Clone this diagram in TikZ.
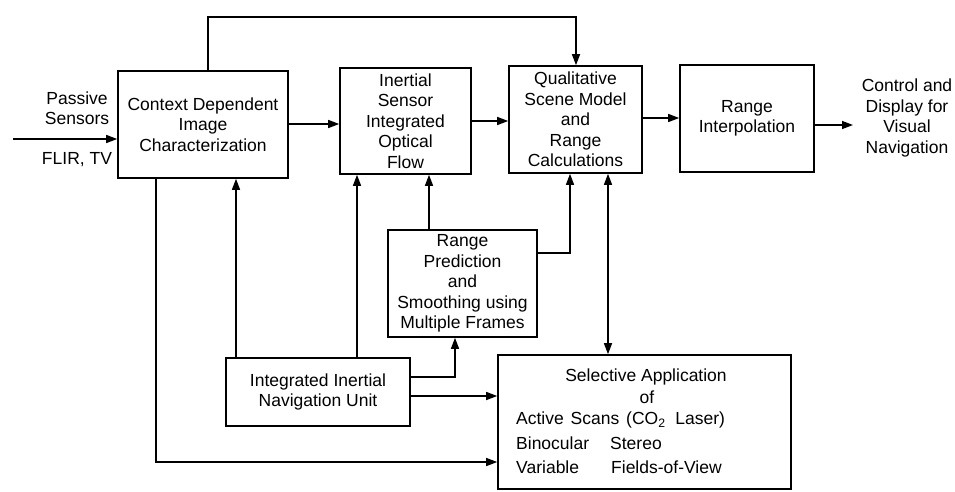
\documentclass[tikz,border=0pt]{standalone}
\usepackage{fontspec}
\setmainfont{Liberation Sans}
\usetikzlibrary{arrows.meta}
\begin{document}
\begin{tikzpicture}[x=1pt,y=-1pt,
  font=\fontsize{17.5}{20.5}\selectfont,
  box/.style={draw,line width=1.6pt,align=center,inner sep=0pt},
  lab/.style={align=center,inner sep=0pt},
  conn/.style={line width=1.4pt},
  arr/.style={conn,-{Triangle[length=11pt,width=8pt]}},
  darr/.style={conn,{Triangle[length=11pt,width=8pt]}-{Triangle[length=11pt,width=8pt]}}]
\useasboundingbox (0,0) rectangle (955,491);
% boxes
\node[box,minimum width=170pt,minimum height=107pt] (cdi) at (203,124.5) {Context Dependent\\Image\\Characterization};
\node[box,minimum width=131pt,minimum height=106pt] (isf) at (405.5,121) {Inertial\\Sensor\\Integrated\\Optical\\Flow};
\node[box,minimum width=133pt,minimum height=107pt] (qsm) at (575.5,119.5) {Qualitative\\Scene Model\\and\\Range\\Calculations};
\node[box,minimum width=134pt,minimum height=107pt] (ri) at (747,118.5) {Range\\Interpolation};
\node[box,minimum width=149pt,minimum height=107pt] (rp) at (462.5,283.5) {Range\\Prediction\\and\\Smoothing using\\Multiple Frames};
\node[box,minimum width=184pt,minimum height=68pt] (inu) at (318,392) {Integrated Inertial\\Navigation Unit};
\node[box,minimum width=293pt,minimum height=134pt] (saa) at (644.5,422) {};
% texts in SAA
\node[lab] (saa1) at (646,377) {Selective Application};
\node[lab] (saa2) at (647,397) {of};
\node[lab,anchor=west] (saa3) at (516,420) {Active\hspace{2pt} Scans\hspace{2pt} (CO\textsubscript{2}\ \ Laser)};
\node[lab,anchor=west] (saa4) at (516,443) {\makebox[94pt][l]{Binocular}Stereo};
\node[lab,anchor=west] (saa5) at (516,467) {\makebox[95pt][l]{Variable}Fields-of-View};
% outer labels
\node[lab] (ps) at (77,108) {Passive\\Sensors};
\node[lab] (fl) at (77,160) {FLIR, TV};
\node[lab] (out) at (907,118) {Control and\\Display for\\Visual\\Navigation};
% coordinates
\coordinate (src) at (13,139);
\coordinate (topL) at (208,17);
\coordinate (topR) at (576,17);
\coordinate (outE) at (853,125);
% connectors
\draw[arr] (src) -- (src -| cdi.west);
\draw[arr] (cdi.north -| topL) -- (topL) -- (topR) -- (topR |- qsm.north);
\draw[arr] (cdi.east |- 0,124) -- (isf.west |- 0,124);
\draw[arr] (isf.east |- 0,121) -- (qsm.west |- 0,121);
\draw[arr] (qsm.east |- 0,118) -- (ri.west |- 0,118);
\draw[arr] (ri.east |- outE) -- (outE);
\draw[arr] (cdi.south -| 156,0) |- (saa.west |- 0,462);
\draw[arr] (inu.north -| 236,0) -- (cdi.south -| 236,0);
\draw[arr] (inu.north -| 357,0) -- (isf.south -| 357,0);
\draw[arr] (rp.north -| 429,0) -- (isf.south -| 429,0);
\draw[arr] (rp.east |- 0,253) -| (qsm.south -| 570,0);
\draw[darr] (qsm.south -| 608,0) -- (saa.north -| 608,0);
\draw[arr] (inu.east |- 0,377) -| (rp.south -| 455,0);
\draw[arr] (inu.east |- 0,396) -- (saa.west |- 0,396);
\end{tikzpicture}
\end{document}
